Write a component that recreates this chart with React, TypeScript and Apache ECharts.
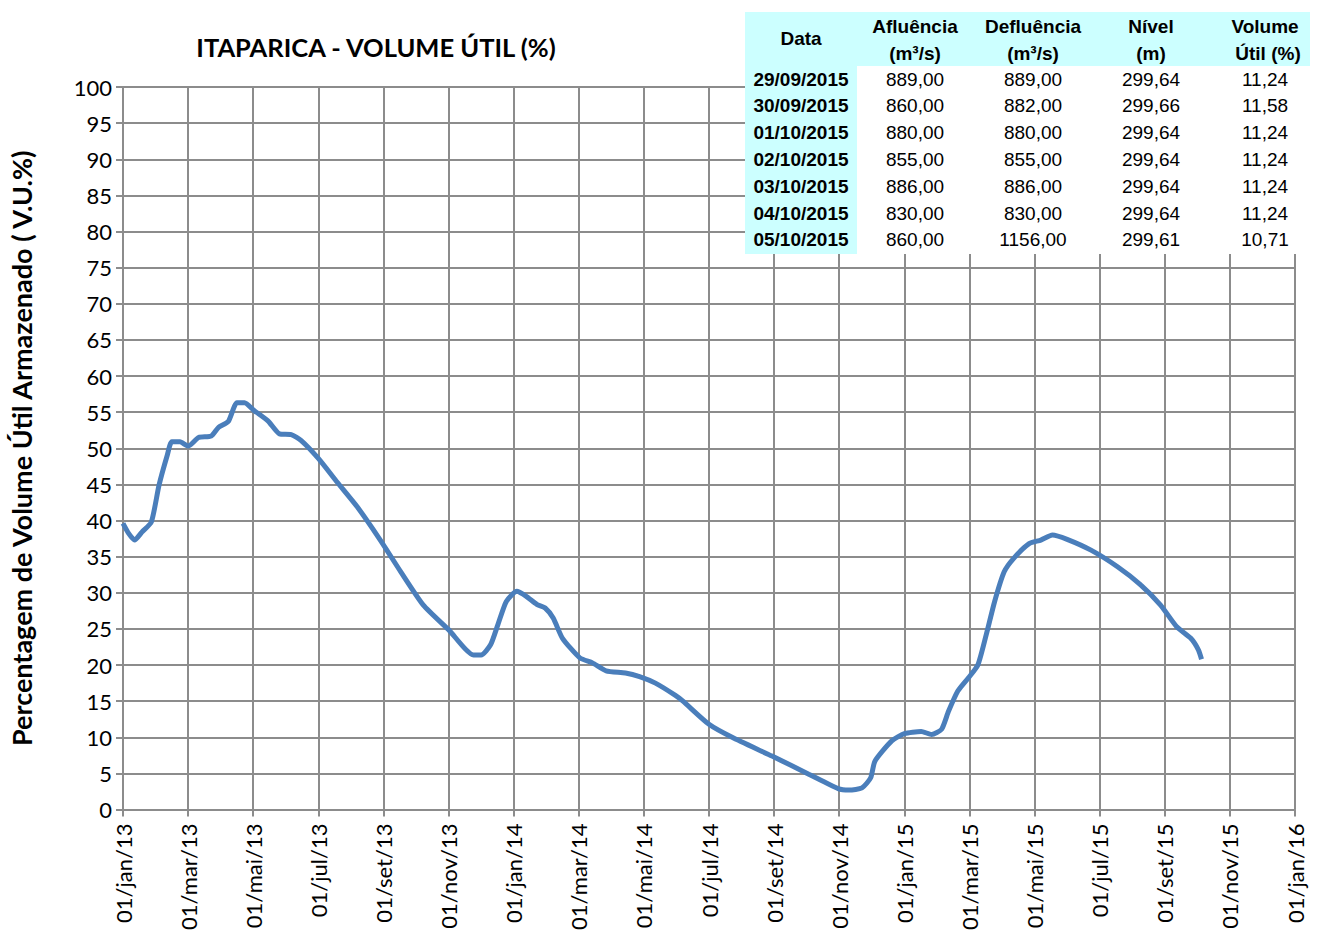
import React, { useEffect, useRef } from "react";
import * as echarts from "echarts";

const seriesDates = [
  "2013-01-01", "2013-01-06", "2013-01-12", "2013-01-19", "2013-01-28", "2013-02-04", "2013-02-11", "2013-02-15",
  "2013-02-22", "2013-03-01", "2013-03-11", "2013-03-23", "2013-03-30", "2013-04-08", "2013-04-16", "2013-04-23",
  "2013-05-02", "2013-05-15", "2013-05-26", "2013-06-06", "2013-06-15", "2013-07-01", "2013-07-19", "2013-08-07",
  "2013-08-29", "2013-09-17", "2013-10-08", "2013-11-01", "2013-11-24", "2013-12-01", "2013-12-10", "2013-12-17",
  "2013-12-25", "2014-01-04", "2014-01-13", "2014-01-23", "2014-01-31", "2014-02-07", "2014-02-15", "2014-03-02",
  "2014-03-14", "2014-03-27", "2014-04-14", "2014-04-27", "2014-05-12", "2014-05-31", "2014-06-07", "2014-07-01",
  "2014-07-23", "2014-08-30", "2014-10-03", "2014-10-31", "2014-11-10", "2014-11-22", "2014-11-30", "2014-12-04",
  "2014-12-20", "2015-01-01", "2015-01-17", "2015-01-27", "2015-02-05", "2015-02-11", "2015-02-19", "2015-02-28",
  "2015-03-09", "2015-03-17", "2015-03-25", "2015-04-03", "2015-04-12", "2015-04-26", "2015-05-07", "2015-05-18",
  "2015-06-01", "2015-06-23", "2015-07-18", "2015-08-09", "2015-08-28", "2015-09-12", "2015-09-25", "2015-10-02",
  "2015-10-05",
];
const volumeUtil = [
  39.6, 38.3, 37.3, 38.4, 39.8, 44.9, 49.0, 50.9,
  50.9, 50.3, 51.5, 51.7, 52.9, 53.7, 56.3, 56.3,
  55.2, 53.8, 52.0, 51.9, 51.1, 48.6, 45.3, 41.9,
  37.3, 32.9, 28.3, 24.9, 21.4, 21.4, 22.8, 25.6,
  28.8, 30.2, 29.5, 28.4, 27.9, 26.5, 23.7, 21.0,
  20.3, 19.2, 18.9, 18.4, 17.5, 15.8, 15.0, 11.8,
  10.0, 7.4, 4.9, 2.9, 2.7, 3.0, 4.4, 6.7,
  9.5, 10.5, 10.8, 10.4, 11.1, 13.6, 16.4, 18.2,
  20.0, 24.2, 28.8, 32.9, 34.8, 36.8, 37.3, 38.0,
  37.4, 35.9, 33.6, 31.1, 28.3, 25.3, 23.7, 22.1,
  20.8,
];

const monthNames = ["jan", "fev", "mar", "abr", "mai", "jun", "jul", "ago", "set", "out", "nov", "dez"];

const tableHeader1 = ["Data", "Afluência", "Defluência", "Nível", "Volume"];
const tableHeader2 = ["", "(m³/s)", "(m³/s)", "(m)", "Útil (%)"];
const tableDates = ["29/09/2015", "30/09/2015", "01/10/2015", "02/10/2015", "03/10/2015", "04/10/2015", "05/10/2015"];
const tableAfluencia = ["889,00", "860,00", "880,00", "855,00", "886,00", "830,00", "860,00"];
const tableDefluencia = ["889,00", "882,00", "880,00", "855,00", "886,00", "830,00", "1156,00"];
const tableNivel = ["299,64", "299,66", "299,64", "299,64", "299,64", "299,64", "299,61"];
const tableVolume = ["11,24", "11,58", "11,24", "11,24", "11,24", "11,24", "10,71"];

const toMonthIndex = (s: string) => {
  const [y, m, d] = s.split("-").map(Number);
  const dim = new Date(y, m, 0).getDate();
  return (y - 2013) * 12 + (m - 1) + (d - 1) / dim;
};

export default function App() {
  const ref = useRef<HTMLDivElement>(null);
  useEffect(() => {
    const chart = echarts.init(ref.current!, null, { renderer: "svg" });
    const data = seriesDates.map((d, i) => [toMonthIndex(d), volumeUtil[i]]);

    const colX = [801, 915, 1033, 1151, 1265];
    const rowY0 = 79;
    const rowH = 26.8;
    const tFont = "Liberation Sans, Arial, sans-serif";
    const graphics: any[] = [
      { type: "rect", shape: { x: 745, y: 12, width: 565, height: 54 }, style: { fill: "#CCFFFF" }, z: 100 },
      { type: "rect", shape: { x: 745, y: 66, width: 112, height: 188 }, style: { fill: "#CCFFFF" }, z: 100 },
      { type: "rect", shape: { x: 857, y: 66, width: 453, height: 188 }, style: { fill: "#FFFFFF" }, z: 100 },
    ];
    tableHeader1.forEach((h, i) => {
      const isData = i === 0;
      graphics.push({
        type: "text", z: 101,
        style: { text: h, x: colX[i], y: isData ? 38 : 26, align: "center", verticalAlign: "middle",
          font: `bold 19px ${tFont}`, fill: "#000" },
      });
      if (tableHeader2[i]) {
        graphics.push({
          type: "text", z: 101,
          style: { text: tableHeader2[i], x: colX[i] + (i === 4 ? 3 : 0), y: 53, align: "center", verticalAlign: "middle",
            font: `bold 19px ${tFont}`, fill: "#000" },
        });
      }
    });
    tableDates.forEach((d, r) => {
      const y = rowY0 + r * rowH;
      const cells = [d, tableAfluencia[r], tableDefluencia[r], tableNivel[r], tableVolume[r]];
      cells.forEach((c, i) => {
        graphics.push({
          type: "text", z: 101,
          style: { text: c, x: colX[i], y, align: "center", verticalAlign: "middle",
            font: `${i === 0 ? "bold " : ""}19px ${tFont}`, fill: "#000" },
        });
      });
    });
    graphics.push({
      type: "text", z: 101,
      style: { text: "ITAPARICA - VOLUME ÚTIL (%)", x: 376, y: 47, align: "center", verticalAlign: "middle",
        font: "bold 25.5px Lato, sans-serif", fill: "#000" },
    });

    chart.setOption({
      animation: false,
      backgroundColor: "#fff",
      textStyle: { fontFamily: "Lato, sans-serif" },
      grid: { left: 117, right: 25, top: 87, bottom: 121, containLabel: false },
      xAxis: {
        type: "value", min: 0, max: 36, interval: 2,
        axisLine: { show: true, lineStyle: { color: "#8c8c8c", width: 2 } },
        axisTick: { show: true, length: 7, lineStyle: { color: "#8c8c8c", width: 2 } },
        splitLine: { show: true, lineStyle: { color: "#8c8c8c", width: 2 } },
        axisLabel: {
          rotate: 90, margin: 14, fontSize: 22, color: "#000", fontFamily: "Lato, sans-serif",
          formatter: (v: number) => {
            const i = Math.round(v);
            return `01/${monthNames[i % 12]}/${13 + Math.floor(i / 12)}`;
          },
        },
      },
      yAxis: {
        type: "value", min: 0, max: 100, interval: 5,
        name: "Percentagem de Volume Útil Armazenado ( V.U.%)",
        nameLocation: "middle", nameRotate: 90, nameGap: 88,
        nameTextStyle: { fontSize: 27, fontWeight: "bold", color: "#000", fontFamily: "Lato, sans-serif" },
        axisLine: { show: true, lineStyle: { color: "#8c8c8c", width: 2 } },
        axisTick: { show: true, length: 7, lineStyle: { color: "#8c8c8c", width: 2 } },
        splitLine: { show: true, lineStyle: { color: "#8c8c8c", width: 2 } },
        axisLabel: { margin: 11, fontSize: 22, color: "#000", fontFamily: "Lato, sans-serif" },
      },
      series: [
        {
          type: "line", data, showSymbol: false, smooth: 0.2,
          lineStyle: { color: "#4A7EBB", width: 5 },
          z: 5,
        },
      ],
      graphic: graphics,
    });
    return () => chart.dispose();
  }, []);
  return <div ref={ref} style={{ position: "absolute", left: 0, top: 0, width: 1320, height: 933 }} />;
}
